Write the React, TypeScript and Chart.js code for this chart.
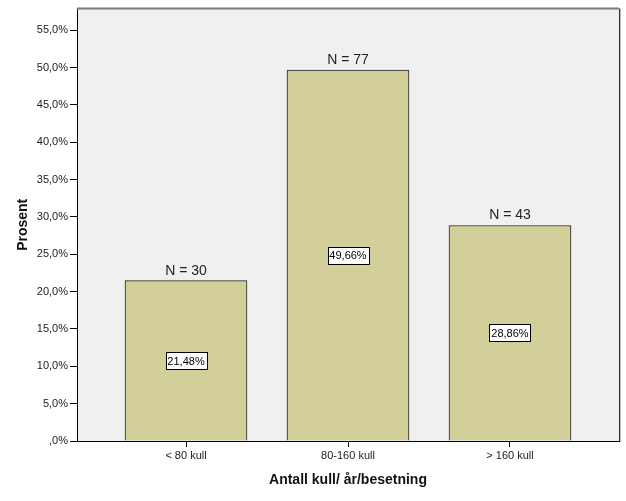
import React, { useEffect, useRef } from "react";
import { Chart, registerables } from "chart.js";

Chart.register(...registerables);

const categories = ["< 80 kull", "80-160 kull", "> 160 kull"];
const percentValues = [21.48, 49.66, 28.86];
const countLabels = ["N = 30", "N = 77", "N = 43"];
const valueLabels = ["21,48%", "49,66%", "28,86%"];
const yTickValues = [0, 5, 10, 15, 20, 25, 30, 35, 40, 45, 50, 55];

const FONT = "'Liberation Sans', Arial, sans-serif";

const fmtY = (v: number) => {
  if (v === 0) return ",0%";
  return v.toFixed(1).replace(".", ",") + "%";
};

const framePlugin = {
  id: "frame",
  beforeDraw(chart: any) {
    const { ctx, chartArea: a } = chart;
    ctx.save();
    ctx.fillStyle = "#ffffff";
    ctx.fillRect(0, 0, chart.width, chart.height);
    ctx.fillStyle = "#f0f0f0";
    ctx.fillRect(a.left, a.top, a.right - a.left, a.bottom - a.top);
    ctx.restore();
  },
  afterDatasetsDraw(chart: any) {
    const { ctx, chartArea: a } = chart;
    ctx.save();
    ctx.strokeStyle = "#7a7a7a";
    ctx.lineWidth = 2;
    ctx.beginPath();
    ctx.moveTo(a.left, a.top);
    ctx.lineTo(a.right, a.top);
    ctx.stroke();
    ctx.strokeStyle = "#333";
    ctx.lineWidth = 1;
    ctx.beginPath();
    ctx.moveTo(a.right + 0.5, a.top);
    ctx.lineTo(a.right + 0.5, a.bottom);
    ctx.stroke();
    ctx.strokeStyle = "#bbb";
    ctx.beginPath();
    ctx.moveTo(a.right + 1.5, a.top);
    ctx.lineTo(a.right + 1.5, a.bottom + 1);
    ctx.stroke();

    const meta = chart.getDatasetMeta(0);
    meta.data.forEach((bar: any, i: number) => {
      const x = bar.x;
      const top = bar.y;
      const bottom = bar.base;
      ctx.fillStyle = "#222";
      ctx.font = `14px ${FONT}`;
      ctx.textAlign = "center";
      ctx.textBaseline = "alphabetic";
      ctx.fillText(countLabels[i], x, top - 6);

      const mid = (top + bottom) / 2;
      ctx.font = `11px ${FONT}`;
      const w = Math.round(ctx.measureText(valueLabels[i]).width + 4);
      const h = 17;
      const bx = Math.round(x - w / 2) + 0.5;
      const by = Math.round(mid - h / 2) + 0.5;
      ctx.fillStyle = "#ffffff";
      ctx.fillRect(bx, by, w, h);
      ctx.strokeStyle = "#000";
      ctx.lineWidth = 1;
      ctx.strokeRect(bx, by, w, h);
      ctx.fillStyle = "#000";
      ctx.textBaseline = "middle";
      ctx.fillText(valueLabels[i], x, mid + 1);
    });
    ctx.restore();
  },
};

export default function App() {
  const ref = useRef<HTMLCanvasElement>(null);
  useEffect(() => {
    document.body.style.margin = "0";
    const chart = new Chart(ref.current!, {
      type: "bar",
      data: {
        datasets: [
          {
            data: percentValues.map((v, i) => ({ x: i, y: v })),
            backgroundColor: "rgb(211,207,154)",
            borderColor: "#222",
            borderWidth: 1,
            barThickness: 122,
          },
        ],
      },
      options: {
        animation: false,
        responsive: false,
        maintainAspectRatio: false,
        layout: { padding: { top: 5, right: 7, left: 0, bottom: 0 } },
        plugins: {
          legend: { display: false },
          tooltip: { enabled: false },
        },
        scales: {
          x: {
            type: "linear",
            min: -0.673,
            max: 2.673,
            offset: false,
            afterBuildTicks: (s: any) => {
              s.ticks = categories.map((_, i) => ({ value: i }));
            },
            afterFit: (s: any) => {
              s.height = 60;
            },
            ticks: {
              callback: (v: any) => categories[v as number] ?? "",
              font: { family: FONT, size: 11 },
              color: "#222",
              padding: 2,
              maxRotation: 0,
              autoSkip: false,
            },
            grid: {
              display: true,
              offset: false,
              drawOnChartArea: false,
              tickLength: 6,
              color: "#000",
            },
            border: { display: true, color: "#000", width: 1 },
            title: {
              display: true,
              text: "Antall kull/ år/besetning",
              font: { family: FONT, size: 14, weight: "bold" },
              color: "#111",
              padding: { top: 0, bottom: 12 },
            },
          },
          y: {
            min: 0,
            max: 57.9,
            afterBuildTicks: (s: any) => {
              s.ticks = yTickValues.map((v) => ({ value: v }));
            },
            afterFit: (s: any) => {
              s.width = 77;
            },
            ticks: {
              callback: (v: any) => fmtY(v as number),
              font: { family: FONT, size: 11 },
              color: "#222",
              padding: 2,
            },
            grid: {
              display: true,
              drawOnChartArea: false,
              tickLength: 7,
              color: "#000",
            },
            border: { display: true, color: "#000", width: 1 },
            title: {
              display: true,
              text: "Prosent",
              font: { family: FONT, size: 14, weight: "bold" },
              color: "#111",
              padding: { top: 15, bottom: 0 },
            },
          },
        },
      },
      plugins: [framePlugin],
    } as any);
    return () => chart.destroy();
  }, []);
  return (
    <div style={{ width: 626, height: 501 }}>
      <canvas ref={ref} width={626} height={501} style={{ display: "block" }} />
    </div>
  );
}
